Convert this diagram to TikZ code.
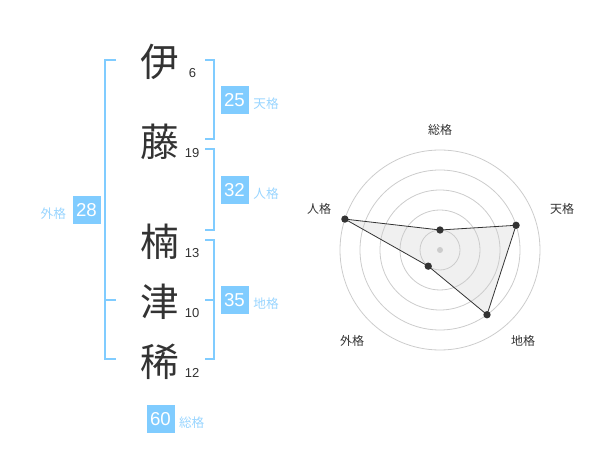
\documentclass[tikz,border=0pt]{standalone}
\usepackage{fontspec}
\setmainfont{Liberation Sans}
\newfontfamily\jp{Noto Sans CJK JP}
\usetikzlibrary{positioning}
\definecolor{kakublue}{HTML}{80CCFF}
\definecolor{kakutext}{HTML}{99D5FF}
\definecolor{inkgray}{HTML}{333333}
\tikzset{
  kanji/.style={text=inkgray,font=\jp\fontsize{29}{29}\selectfont,inner sep=0pt},
  strokes/.style={text=inkgray,font=\fontsize{9.75}{10}\selectfont,inner sep=0pt},
  valbox/.style={fill=kakublue,text=white,minimum size=21pt,inner sep=0pt,font=\fontsize{14}{14}\selectfont},
  kaku/.style={text=kakutext,font=\jp\fontsize{9.5}{10}\selectfont,inner sep=0pt},
  brace/.style={draw=kakublue,line width=1.5pt},
  ring/.style={draw=black!20,line width=0.6pt},
  dot/.style={circle,fill=inkgray,inner sep=0pt,minimum size=5.5pt},
  axis/.style={text=inkgray,font=\jp\fontsize{9}{10}\selectfont,inner sep=0pt}
}
\begin{document}
\begin{tikzpicture}[x=0.75pt,y=-0.75pt]
    \useasboundingbox (0,0) rectangle (600,470);

    % name
    \node[kanji] (K1) at (160,61.7) {伊};
    \node[kanji] (K2) at (160,141.7) {藤};
    \node[kanji] (K3) at (160,241.7) {楠};
    \node[kanji] (K4) at (160,301.7) {津};
    \node[kanji] (K5) at (160,361.7) {稀};
    \node[strokes] (S1) at (192.5,72.7) {6};
    \node[strokes] (S2) at (192,152.7) {19};
    \node[strokes] (S3) at (192,252.7) {13};
    \node[strokes] (S4) at (192,312.7) {10};
    \node[strokes] (S5) at (192,372.7) {12};

    % brackets
    \draw[brace] (116,60) -- (105,60) -- (105,359.3) -- (116,359.3);
    \draw[brace] (105,300) -- (116,300);
    \draw[brace] (205,60) -- (214,60) -- (214,139.3) -- (205,139.3);
    \draw[brace] (205,149.3) -- (214,149.3) -- (214,230) -- (205,230);
    \draw[brace] (205,240) -- (214,240) -- (214,359.3) -- (205,359.3);
    \draw[brace] (205,300) -- (214,300);

    % values
    \node[valbox] (ten) at (234.5,100.5) {25};
    \node[valbox] (jin) at (234.5,190) {32};
    \node[valbox] (chi) at (234.5,300.3) {35};
    \node[valbox] (gai) at (86.5,210) {28};
    \node[valbox] (sou) at (160.5,419) {60};
    \node[kaku] (tenL) at (266,104) {天格};
    \node[kaku] (jinL) at (266,194) {人格};
    \node[kaku] (chiL) at (266,304) {地格};
    \node[kaku] (gaiL) at (53.3,213.5) {外格};
    \node[kaku] (souL) at (191.7,422.7) {総格};

    % radar
    \begin{scope}[shift={(440,250)},yscale=-1]
      \coordinate (Psou) at (90:20);
      \coordinate (Pten) at (18:80);
      \coordinate (Pchi) at (-54:80);
      \coordinate (Pgai) at (-126:20);
      \coordinate (Pjin) at (162:100);
      \fill[black!6] (Psou) -- (Pten) -- (Pchi) -- (Pgai) -- (Pjin) -- cycle;
      \foreach \r in {20,40,...,100}
        \draw[ring] (0,0) circle (\r);
      \fill[black!20] (0,0) circle (3);
      \draw[inkgray,line width=0.6pt] (Psou) -- (Pten) -- (Pchi) -- (Pgai) -- (Pjin) -- cycle;
      \foreach \p in {Psou,Pten,Pchi,Pgai,Pjin}
        \node[dot] at (\p) {};
      \node[axis] (Asou) at (0,120) {総格};
      \node[axis] (Aten) at (122,41) {天格};
      \node[axis] (Ajin) at (-121,41) {人格};
      \node[axis] (Agai) at (-88,-91) {外格};
      \node[axis] (Achi) at (83,-91) {地格};
    \end{scope}
  \end{tikzpicture}
\end{document}
